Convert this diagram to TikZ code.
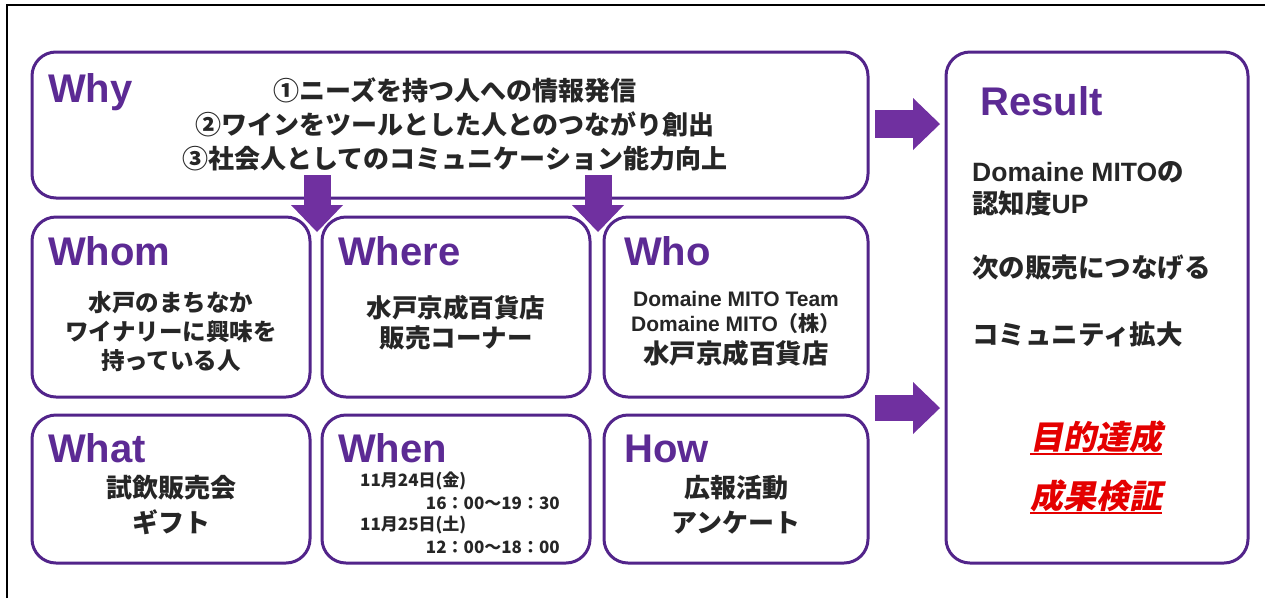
\documentclass[tikz,border=0pt]{standalone}
\usepackage{fontspec}
\setmainfont{Liberation Sans}
\newfontfamily\jp{Noto Sans CJK JP}
\newfontfamily\jpslant[FakeSlant=0.2]{Noto Sans CJK JP}
\usetikzlibrary{arrows.meta}
\definecolor{boxline}{RGB}{82,36,138}
\definecolor{headpurple}{RGB}{92,42,148}
\definecolor{arrowpurple}{RGB}{112,48,160}
\definecolor{goalred}{RGB}{228,0,0}
\newcommand\goalline[1]{\setbox0\hbox{#1}\rlap{\rule[-5pt]{\wd0}{2pt}}\box0}
\begin{document}
\begin{tikzpicture}[x=1pt,y=-1pt,
    box/.style={draw=boxline,line width=3pt,rounded corners=24pt,fill=white,inner sep=0pt},
    head/.style={anchor=base west,inner sep=0pt,text=headpurple,font=\bfseries\fontsize{40}{40}\selectfont},
    body/.style={align=center,inner sep=0pt,text=black!85},
    fat/.style={draw=arrowpurple,line width=#1,-{Triangle[width=52pt,length=27pt,line width=0pt]}}]
  \useasboundingbox (0,0) rectangle (1265,598);
  % frame
  \draw[line width=2.5pt] (7,598) |- (1265,5);
  % boxes
  \node[box,minimum width=836pt,minimum height=146pt] (why) at (450,125) {};
  \node[box,minimum width=278pt,minimum height=180pt] (whom) at (171,307) {};
  \node[box,minimum width=268pt,minimum height=180pt] (where) at (456,307) {};
  \node[box,minimum width=264pt,minimum height=180pt] (who) at (736,307) {};
  \node[box,minimum width=278pt,minimum height=148pt] (what) at (171,489) {};
  \node[box,minimum width=268pt,minimum height=148pt] (when) at (456,489) {};
  \node[box,minimum width=264pt,minimum height=148pt] (how) at (736,489) {};
  \node[box,minimum width=302pt,minimum height=511pt] (result) at (1097,307.5) {};
  % headings
  \node[head] (whyhead) at (48,102) {Why};
  \node[head] (whomhead) at (48,265) {Whom};
  \node[head] (wherehead) at (338,265) {Where};
  \node[head] (whohead) at (624,265) {Who};
  \node[head] (whathead) at (48,462) {What};
  \node[head] (whenhead) at (338,462) {When};
  \node[head] (howhead) at (624,462) {How};
  \node[head] (resulthead) at (980,115) {Result};
  % texts
  \node[body,font=\bfseries\jp\fontsize{26}{34}\selectfont] (whytext) at (455,124)
    {①ニーズを持つ人への情報発信\\②ワインをツールとした人とのつながり創出\\③社会人としてのコミュニケーション能力向上};
  \node[body,font=\bfseries\jp\fontsize{23.5}{29}\selectfont] (whomtext) at (171,332)
    {水戸のまちなか\\ワイナリーに興味を\\持っている人};
  \node[body,font=\bfseries\jp\fontsize{25.5}{30}\selectfont] (wheretext) at (456,323)
    {水戸京成百貨店\\販売コーナー};
  \node[body,font=\bfseries\fontsize{21}{25}\selectfont] (whotext) at (736,312)
    {Domaine MITO Team\\Domaine MITO{\jp（株）}};
  \node[body,font=\bfseries\jp\fontsize{26.5}{26}\selectfont] (whoshop) at (736,353) {水戸京成百貨店};
  \node[body,font=\bfseries\jp\fontsize{26}{35}\selectfont] (whattext) at (171,505) {試飲販売会\\ギフト};
  \node[body,font=\bfseries\jp\fontsize{26}{35}\selectfont] (howtext) at (736,505) {広報活動\\アンケート};
  \begin{scope}[every node/.style={body,font=\bfseries\jp\fontsize{17}{17}\selectfont}]
    \node[anchor=west] (day1) at (360,481) {11月24日(金)};
    \node[anchor=east] (time1) at (560,503) {16：00〜19：30};
    \node[anchor=west] (day2) at (360,525) {11月25日(土)};
    \node[anchor=east] (time2) at (560,547) {12：00〜18：00};
  \end{scope}
  \begin{scope}[every node/.style={body,anchor=west,font=\bfseries\fontsize{26.5}{26}\selectfont}]
    \node (res1) at (972,172) {Domaine MITO{\jp の}};
    \node (res2) at (972,203) {{\jp 認知度}UP};
    \node (res3) at (972,268) {\jp 次の販売につなげる};
    \node (res4) at (972,334) {\jp コミュニティ拡大};
  \end{scope}
  \node[body,text=goalred,font=\bfseries\jpslant\fontsize{33}{33}\selectfont] (goal1) at (1096,438) {\goalline{目的達成}};
  \node[body,text=goalred,font=\bfseries\jpslant\fontsize{33}{33}\selectfont] (goal2) at (1096,497) {\goalline{成果検証}};
  % arrows
  \coordinate (down1) at (317,175);
  \coordinate (down1tip) at (317,232);
  \coordinate (down2) at (598,175);
  \coordinate (down2tip) at (598,232);
  \coordinate (right1) at (875,124);
  \coordinate (right1tip) at (940,124);
  \coordinate (right2) at (875,408);
  \coordinate (right2tip) at (940,408);
  \draw[fat=27pt] (down1) -- (down1tip);
  \draw[fat=27pt] (down2) -- (down2tip);
  \draw[fat=28pt] (right1) -- (right1tip);
  \draw[fat=26pt] (right2) -- (right2tip);
\end{tikzpicture}
\end{document}
